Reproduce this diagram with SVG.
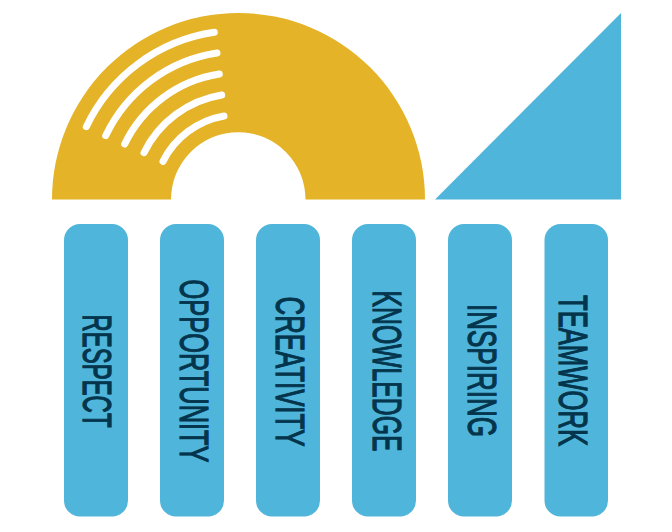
<svg xmlns="http://www.w3.org/2000/svg" width="672" height="532" viewBox="0 0 672 532">
<style>
.bar{fill:#4fb5da}
.lbl{font-family:"Liberation Sans Narrow","Liberation Sans",Arial,sans-serif;font-size:30px;font-weight:400;fill:#04354c;stroke:#04354c;stroke-width:1.1;vector-effect:non-scaling-stroke}
.groove{fill:none;stroke:#fff;stroke-width:7;stroke-linecap:round}
</style>
<rect width="672" height="532" fill="#fff"/>
<g id="arch">
<path d="M52 199.5A186.5 186.5 0 0 1 425 199.5H305.5A67.2 67.2 0 0 0 171 199.5Z" fill="#e5b327"/>
<path class="groove" d="M86.3 126.7A169 169 0 0 1 214.3 32.3"/>
<path class="groove" d="M105.7 135.7A147.5 147.5 0 0 1 217 53"/>
<path class="groove" d="M124.7 144A126.8 126.8 0 0 1 219.3 74"/>
<path class="groove" d="M144 152.7A105.7 105.7 0 0 1 221.7 95"/>
<path class="groove" d="M163 161.3A84.7 84.7 0 0 1 224 116"/>
</g>
<g id="triangle"><path class="bar" d="M435 199.5L621 13V199.5Z"/></g>
<g id="respect"><rect class="bar" x="64" y="224" width="64" height="292.5" rx="16"/>
<text class="lbl" transform="translate(82.5 314.5) rotate(90) scale(1 1.36)" textLength="113" lengthAdjust="spacingAndGlyphs">RESPECT</text></g>
<g id="opportunity"><rect class="bar" x="160" y="224" width="64" height="292.5" rx="16"/>
<text class="lbl" transform="translate(180 279.5) rotate(90) scale(1 1.36)" textLength="183" lengthAdjust="spacingAndGlyphs">OPPORTUNITY</text></g>
<g id="creativity"><rect class="bar" x="256" y="224" width="64" height="292.5" rx="16"/>
<text class="lbl" transform="translate(276 296.5) rotate(90) scale(1 1.36)" textLength="150" lengthAdjust="spacingAndGlyphs">CREATIVITY</text></g>
<g id="knowledge"><rect class="bar" x="352" y="224" width="64" height="292.5" rx="16"/>
<text class="lbl" transform="translate(372.5 290.5) rotate(90) scale(1 1.36)" textLength="161" lengthAdjust="spacingAndGlyphs">KNOWLEDGE</text></g>
<g id="inspiring"><rect class="bar" x="448" y="224" width="64" height="292.5" rx="16"/>
<text class="lbl" transform="translate(467.5 304) rotate(90) scale(1 1.36)" textLength="133" lengthAdjust="spacingAndGlyphs">INSPIRING</text></g>
<g id="teamwork"><rect class="bar" x="544.5" y="224" width="63.5" height="292.5" rx="16"/>
<text class="lbl" transform="translate(558.5 295) rotate(90) scale(1 1.36)" textLength="151" lengthAdjust="spacingAndGlyphs">TEAMWORK</text></g>
</svg>
